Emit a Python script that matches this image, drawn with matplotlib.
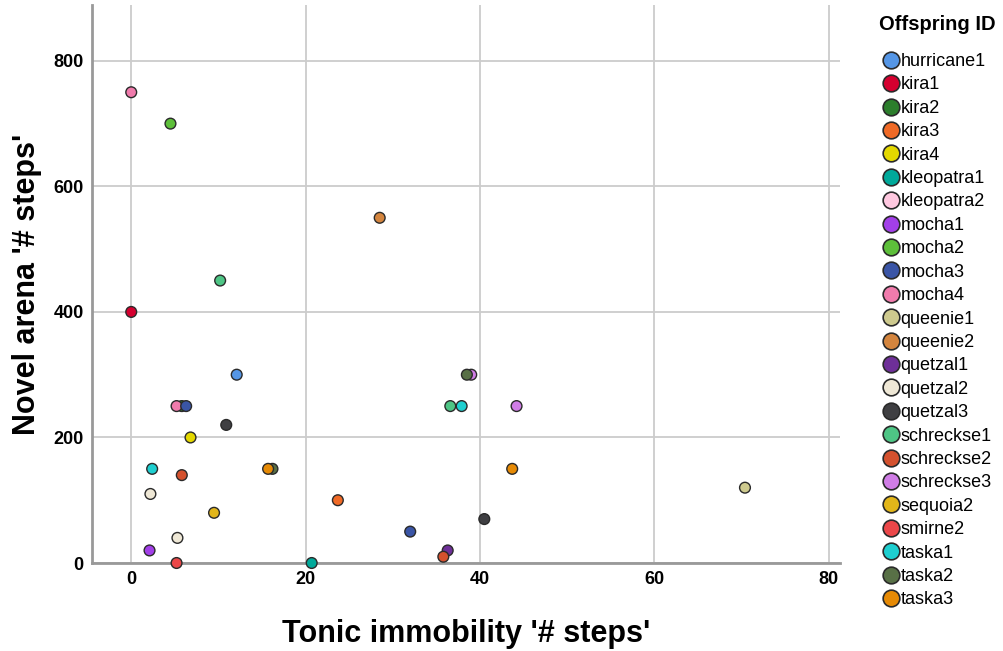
import matplotlib
matplotlib.use("Agg")
import matplotlib.pyplot as plt
from matplotlib.lines import Line2D
from matplotlib import font_manager

names = [f.name for f in font_manager.fontManager.ttflist]
narrow = "Liberation Sans Narrow" if "Liberation Sans Narrow" in names else "Liberation Sans"

offspring_ids = ["hurricane1", "kira1", "kira2", "kira3", "kira4", "kleopatra1", "kleopatra2",
                 "mocha1", "mocha2", "mocha3", "mocha4", "queenie1", "queenie2", "quetzal1",
                 "quetzal2", "quetzal3", "schreckse1", "schreckse2", "schreckse3", "sequoia2",
                 "smirne2", "taska1", "taska2", "taska3"]
id_colors = ["#5596E6", "#D5002F", "#2C7E2C", "#F06A26", "#E4D800", "#00A99A", "#FFC8E0",
             "#A23FE8", "#5DBF3A", "#3A55A6", "#F07BAC", "#CECA8E", "#D4853E", "#6E2F98",
             "#EFE8D6", "#3F3F42", "#4EC585", "#D4512E", "#D07DE6", "#E2B61A", "#EB4749",
             "#1ECFD0", "#587046", "#E68A05"]

point_ids = ["mocha4", "mocha2", "queenie2", "schreckse1", "kira1", "hurricane1",
             "schreckse3", "taska2", "kira2", "mocha4", "mocha3", "schreckse1", "taska1",
             "schreckse3", "quetzal3", "kira4", "taska1", "schreckse2", "taska2", "taska3",
             "quetzal2", "kira3", "sequoia2", "quetzal2", "mocha1", "smirne2", "kleopatra1",
             "taska3", "quetzal3", "mocha3", "quetzal1", "schreckse2", "queenie1"]
tonic_steps = [0, 4.5, 28.5, 10.2, 0, 12.1,
               39.0, 38.5, 5.8, 5.2, 6.3, 36.6, 37.9,
               44.2, 10.9, 6.8, 2.4, 5.8, 16.2, 15.7,
               2.2, 23.7, 9.5, 5.3, 2.1, 5.2, 20.7,
               43.7, 40.5, 32.0, 36.3, 35.8, 70.4]
novel_steps = [750, 700, 550, 450, 400, 300,
               300, 300, 250, 250, 250, 250, 250,
               250, 220, 200, 150, 140, 150, 150,
               110, 100, 80, 40, 20, 0, 0,
               150, 70, 50, 20, 10, 120]

color_map = dict(zip(offspring_ids, id_colors))

fig = plt.figure(figsize=(10.04, 6.51), dpi=100)
ax = fig.add_axes([92/1004, 1 - 563/651, (840-92)/1004, (563-5)/651])

ax.scatter(tonic_steps, novel_steps, s=60, c=[color_map[p] for p in point_ids],
           edgecolors="#2a2a2a", linewidths=1.0, zorder=3, clip_on=False)

ax.set_xlim(-4.5, 81.3)
ax.set_ylim(0, 889)
ax.set_xticks([0, 20, 40, 60, 80])
ax.set_yticks([0, 200, 400, 600, 800])
ax.grid(True, color="#cccccc", linewidth=1.3, zorder=0)
ax.set_axisbelow(True)
for s in ["top", "right"]:
    ax.spines[s].set_visible(False)
for s in ["left", "bottom"]:
    ax.spines[s].set_color("#999999")
    ax.spines[s].set_linewidth(2)
ax.tick_params(axis="both", length=0, pad=6, labelsize=13)
for lab in ax.get_xticklabels() + ax.get_yticklabels():
    lab.set_fontfamily(narrow)
    lab.set_fontweight("bold")

ax.set_xlabel("Tonic immobility '# steps'", fontsize=22, fontweight="bold",
              family="Liberation Sans", labelpad=22)
ax.set_ylabel("Novel arena '# steps'", fontsize=22, fontweight="bold",
              family="Liberation Sans", labelpad=8)

fig.text(879/1004, 1 - 25/651, "Offspring ID", ha="left", va="center",
         family="Liberation Sans", fontweight="bold", fontsize=14.5)

handles = [Line2D([0], [0], marker="o", linestyle="none", markersize=12,
                  markerfacecolor=color_map[n], markeredgecolor="#2a2a2a",
                  markeredgewidth=1.2, label=n) for n in offspring_ids]
leg = fig.legend(handles=handles, loc="upper left", bbox_to_anchor=(870/1004, 1 - 44/651),
                 frameon=False, handletextpad=-0.1,
                 labelspacing=0.355, borderpad=0, handlelength=1.3,
                 prop={"family": narrow, "size": 13})

fig.savefig("out.png", dpi=100)
